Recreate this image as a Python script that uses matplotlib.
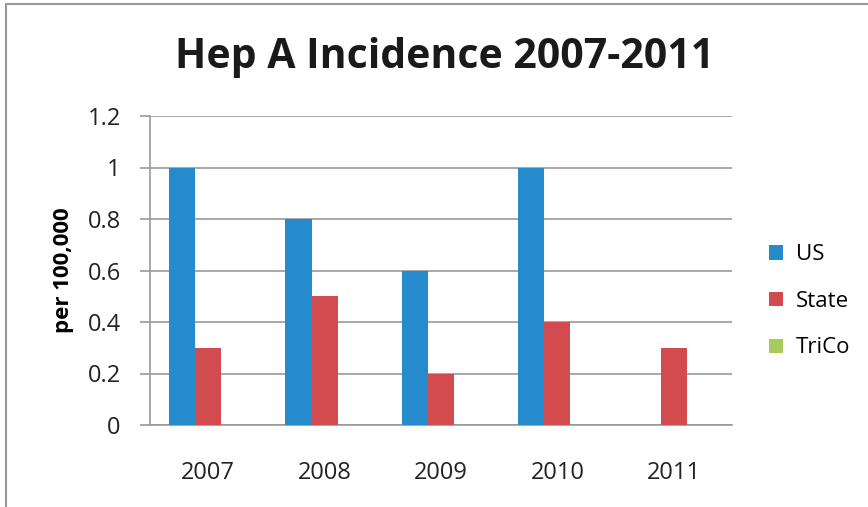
import numpy as np
import matplotlib.pyplot as plt
from matplotlib.patches import Rectangle

years = ['2007', '2008', '2009', '2010', '2011']
us = [1.0, 0.8, 0.6, 1.0, 0.0]
state = [0.3, 0.5, 0.2, 0.4, 0.3]
trico = [0, 0, 0, 0, 0]

plt.rcParams['font.family'] = ['Open Sans', 'DejaVu Sans']

fig = plt.figure(figsize=(8.68, 5.07), dpi=100)
ax = fig.add_axes([150/868, 1-425/507, 582/868, 309/507])

x = np.arange(len(years))
w = 0.224
ax.bar(x - w, us, w, color='#268BCC', label='US', zorder=3)
ax.bar(x, state, w, color='#D24B4E', label='State', zorder=3)
ax.bar(x + w, trico, w, color='#A9CB5B', label='TriCo', zorder=3)

ax.set_xlim(-0.5, len(years) - 0.5)
ax.set_ylim(0, 1.2)
ax.set_yticks([0, 0.2, 0.4, 0.6, 0.8, 1.0, 1.2])
ax.set_yticklabels(['0', '0.2', '0.4', '0.6', '0.8', '1', '1.2'])
ax.set_xticks(x)
ax.set_xticklabels(years)
ax.tick_params(axis='x', length=0, pad=26, labelsize=17, colors='#222222')
ax.tick_params(axis='y', length=7, width=1.2, color='#999999', pad=14, labelsize=17, labelcolor='#222222')
ax.grid(axis='y', color='#999999', linewidth=1.2, zorder=0)
for s in ['top', 'right']:
    ax.spines[s].set_visible(False)
for s in ['left', 'bottom']:
    ax.spines[s].set_color('#999999')
    ax.spines[s].set_linewidth(1.2)

ax.set_ylabel('per 100,000', fontsize=16, fontweight='bold', labelpad=10)
fig.text(0.512, 1 - 57/507, 'Hep A Incidence 2007-2011', ha='center', va='center',
         fontsize=29.5, fontweight='bold', color='#1a1a1a')

ax.legend(loc='center left', bbox_to_anchor=(1.03, 0.40), frameon=False,
          fontsize=16, handlelength=0.6, handleheight=0.6, labelspacing=1.15,
          handletextpad=0.6)

fig.patches.append(Rectangle((6/868, -0.1), 1.2, 1.1 - 4/507, transform=fig.transFigure,
                             fill=False, edgecolor='#999999', linewidth=1.5))

fig.savefig('out.png', dpi=100)
